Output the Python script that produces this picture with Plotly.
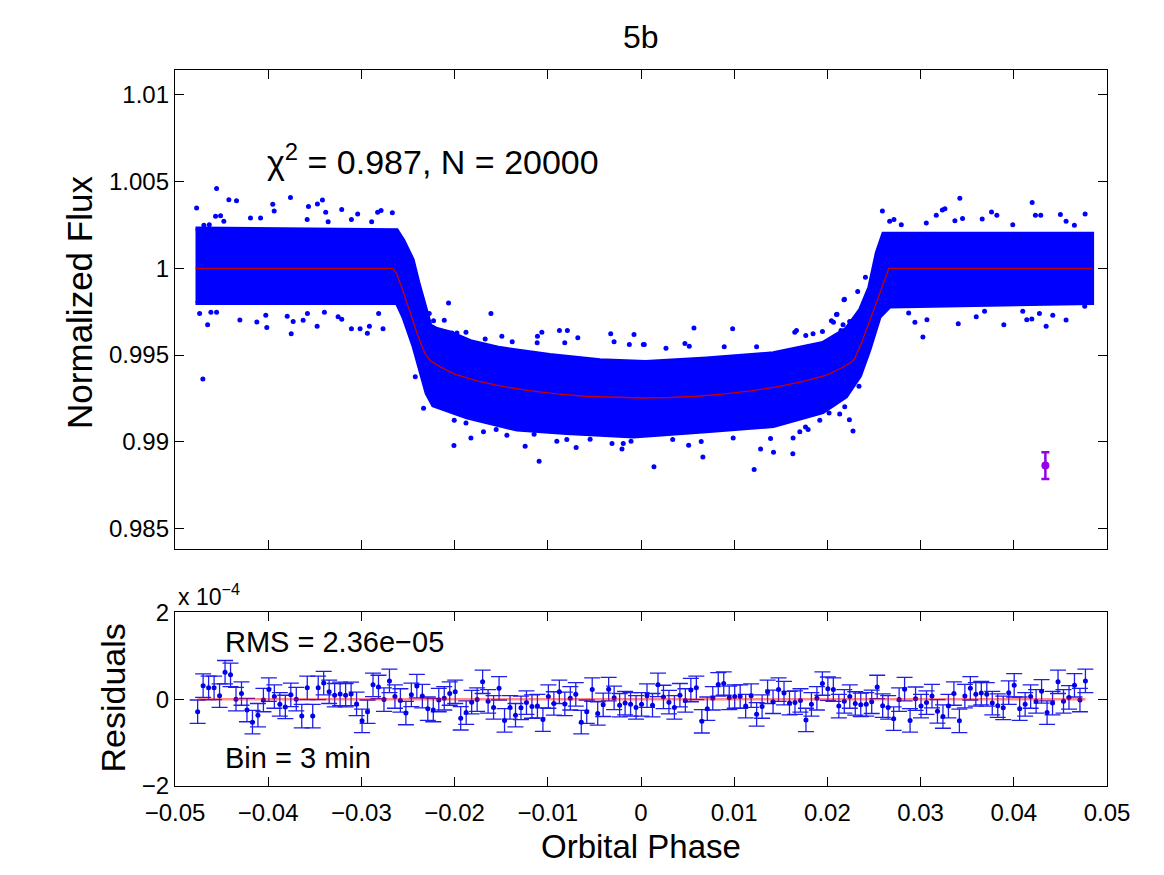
import plotly.graph_objects as go

# ------------------------------------------------------------
# Data
# ------------------------------------------------------------

# dense cloud of the 20000 unbinned points, as upper / lower envelope
band_upper_x = [-0.0478, -0.0262, -0.0255, -0.0245, -0.0239, -0.0230, -0.0226,
                -0.0219, -0.0205, -0.0183, -0.0151, -0.0098, -0.0044, 0.0005,
                0.0070, 0.0142, 0.0195, 0.0220, 0.0235, 0.0245, 0.0253, 0.0260,
                0.0484]
band_upper_y = [1.0023, 1.0022, 1.0016, 1.0005, 0.9992, 0.9976, 0.9967,
                0.9965, 0.9963, 0.9958, 0.9954, 0.9950, 0.9947, 0.9946,
                0.9948, 0.9951, 0.9957, 0.9965, 0.9976, 0.9989, 1.0009, 1.0020,
                1.0020]
band_lower_x = [-0.0478, -0.0262, -0.0255, -0.0244, -0.0237, -0.0230, -0.0223,
                -0.0187, -0.0133, -0.0080, -0.0008, 0.0070, 0.0142, 0.0195,
                0.0220, 0.0235, 0.0245, 0.0249, 0.0256, 0.0267, 0.0484]
band_lower_y = [0.9980, 0.9980, 0.9972, 0.9955, 0.9942, 0.9928, 0.9921,
                0.9914, 0.9907, 0.9905, 0.9903, 0.9906, 0.9909, 0.9917,
                0.9926, 0.9938, 0.9953, 0.9959, 0.9972, 0.9978, 0.9980]

# scattered points outside the dense cloud
outlier_x = [
    -0.04768, -0.04554, -0.04422, -0.04340, -0.04565, -0.04511, -0.04476,
    -0.03951, -0.03936, -0.03761, -0.03568, -0.03472, -0.03418, -0.03383,
    -0.03211, -0.03107, -0.03040, -0.02826, -0.02789, -0.02668, -0.04190,
    -0.04082, -0.03582, -0.03357, -0.02890, -0.04690, -0.04632,
    -0.04701, -0.04650, -0.04304, -0.04122, -0.04015, -0.03753, -0.03732,
    -0.03625, -0.03475, -0.03250, -0.03211, -0.03107, -0.03014, -0.02936,
    -0.02914, -0.02768, -0.04736, -0.04615, -0.04554, -0.04026, -0.03796,
    -0.03579, -0.03397, -0.02815,
    -0.02422, -0.02333, -0.02065, -0.02111, -0.02226, -0.02004, -0.02007,
    -0.01878, -0.02028, -0.01975, -0.01610, -0.02272, -0.01111, -0.01064,
    -0.00875, -0.00790, -0.00678, -0.00325, -0.00075, -0.00818, -0.01114,
    -0.00289, -0.00125, 0.00025, -0.01382, -0.01493, -0.01672, -0.01878,
    -0.01825, -0.01690, -0.01554, -0.01243, -0.01093, -0.00696, -0.00903,
    -0.00311, -0.00204, -0.00190, -0.00107, -0.01439, -0.01147, -0.00546,
    -0.00796,
    0.00568, 0.00983, 0.00035, 0.00268, 0.00471, 0.00518, 0.00893, 0.01240,
    0.01650, 0.01668, 0.01768, 0.01846, 0.01947, 0.02043, 0.02065, 0.02097,
    0.02178, 0.02325, 0.02146, 0.02239,
    0.00139, 0.00664, 0.01214, 0.01283, 0.01422, 0.01629, 0.00511, 0.00646,
    0.00340, 0.00989, 0.01390, 0.01632, 0.01704, 0.01793, 0.01918, 0.02018,
    0.02132, 0.02236, 0.02275, 0.02339, 0.02186,
    0.02590, 0.02668, 0.02714, 0.03168, 0.03233, 0.03261, 0.03421, 0.03368,
    0.03450, 0.03661, 0.03761, 0.03818, 0.04197, 0.04232, 0.04289, 0.04500,
    0.04561, 0.04765, 0.03061, 0.02793, 0.03989, 0.04650,
    0.02183, 0.02103, 0.02408, 0.02168, 0.01765,
    0.03025, 0.02939, 0.03068, 0.03404, 0.03893, 0.04347, 0.04561, 0.04139,
    0.04193, 0.04275, 0.03597, 0.03686, 0.02872, 0.04761, 0.04418, 0.04096,
]
outlier_y = [
    1.00348, 1.00460, 1.00396, 1.00390, 1.00300, 1.00304, 1.00271,
    1.00369, 1.00331, 1.00408, 1.00356, 1.00371, 1.00394, 1.00323,
    1.00339, 1.00281, 1.00314, 1.00323, 1.00333, 1.00321, 1.00291,
    1.00291, 1.00281, 1.00268, 1.00268, 1.00248, 1.00252,
    0.99362, 0.99674, 0.99702, 0.99691, 0.99658, 0.99622, 0.99693,
    0.99700, 0.99666, 0.99721, 0.99706, 0.99652, 0.99652, 0.99625,
    0.99666, 0.99652, 0.99739, 0.99746, 0.99746, 0.99729, 0.99723,
    0.99739, 0.99746, 0.99739,
    0.99374, 0.99193, 0.99800, 0.99700, 0.99698, 0.99123, 0.98978,
    0.99108, 0.99627, 0.99627, 0.99739, 0.99739, 0.99608, 0.99631,
    0.99642, 0.99642, 0.99600, 0.99622, 0.99619, 0.99570, 0.99570,
    0.99576, 0.99560, 0.99560, 0.99576, 0.99608, 0.99593, 0.99631,
    0.99022, 0.99057, 0.99070, 0.98973, 0.98887, 0.98966, 0.99002,
    0.98989, 0.98958, 0.98989, 0.99002, 0.99037, 0.99043, 0.99014,
    0.99012,
    0.99656, 0.99651, 0.99560, 0.99539, 0.99566, 0.99550, 0.99547, 0.99547,
    0.99631, 0.99641, 0.99612, 0.99622, 0.99635, 0.99698, 0.99689, 0.99733,
    0.99819, 0.99866, 0.99642, 0.99694,
    0.98855, 0.98912, 0.98839, 0.98958, 0.98939, 0.98931, 0.98979, 0.99001,
    0.99012, 0.99022, 0.99018, 0.99022, 0.99057, 0.99070, 0.99123, 0.99166,
    0.99160, 0.99127, 0.99062, 0.99320, 0.99201,
    1.00331, 1.00271, 1.00281, 1.00306, 1.00337, 1.00344, 1.00404, 1.00275,
    1.00288, 1.00285, 1.00325, 1.00306, 1.00379, 1.00306, 1.00306, 1.00310,
    1.00271, 1.00314, 1.00262, 1.00252, 1.00252, 1.00248,
    0.99821, 0.99735, 0.99948, 0.99675, 0.99085,
    0.99604, 0.99689, 0.99704, 0.99681, 0.99675, 0.99666, 0.99702, 0.99704,
    0.99708, 0.99739, 0.99720, 0.99752, 0.99743, 0.99781, 0.99729, 0.99752,
]

# transit model (red line)
model_x = [-0.0478, -0.0266, -0.0262, -0.0256, -0.0248, -0.0240, -0.0232,
           -0.0228, -0.0226, -0.0215, -0.0200, -0.0175, -0.0150, -0.0120,
           -0.0090, -0.0060, -0.0030, 0.0000, 0.0030, 0.0060, 0.0090, 0.0120,
           0.0150, 0.0175, 0.0200, 0.0215, 0.0227, 0.0229, 0.0236, 0.0244,
           0.0252, 0.0260, 0.0263, 0.0266, 0.0484]
model_y = [1.0000, 1.0000, 0.99965, 0.99880, 0.99750, 0.99620, 0.99510,
           0.99478, 0.99466, 0.99430, 0.99390, 0.99350, 0.99320, 0.99295,
           0.99276, 0.99262, 0.99255, 0.99252, 0.99255, 0.99262, 0.99276,
           0.99295, 0.99320, 0.99350, 0.99385, 0.99425, 0.99464, 0.99478,
           0.99560, 0.99680, 0.99800, 0.99920, 0.99965, 1.0000, 1.0000]

# typical single-point error (purple marker)
err_pt_x = [0.04339]
err_pt_y = [0.98862]
err_pt_e = [0.00077]

# binned residuals (3 min bins), in units of 1e-4
resid_x0 = -0.04757
resid_dx = 0.000588
resid_y = [
    -0.29, 0.31, 0.26, 0.26, 0.08, 0.62, 0.56, 0.00, 0.13, -0.25,
    -0.53, -0.37, -0.02, 0.22, 0.06, -0.12, -0.18, 0.10, 0.00, -0.39,
    0.26, -0.39, 0.26, 0.37, 0.17, 0.09, 0.12, 0.09, 0.12, -0.11,
    -0.50, -0.29, 0.33, 0.28, -0.01, 0.42, 0.06, -0.03, -0.32, 0.10,
    0.30, 0.07,
    -0.22, -0.25, -0.02, 0.02, 0.13, 0.17, -0.44, -0.31, -0.07, -0.01,
    0.40, -0.05, -0.19, 0.25, -0.49, -0.19, -0.37, -0.20, -0.08, -0.17,
    -0.16, -0.47, 0.06, -0.10, 0.17, -0.11, 0.02, 0.11, -0.53, -0.29,
    0.22, -0.33, -0.13, 0.23, 0.03, -0.14, -0.09, -0.12, -0.19, -0.12,
    0.08, -0.14, 0.33,
    0.05, -0.07, -0.19, 0.09, -0.03, 0.21, 0.26, -0.51, -0.22, 0.02,
    0.34, 0.36, 0.03, 0.06, 0.06, -0.16, 0.08, -0.35, -0.17, 0.17,
    -0.06, 0.22, 0.14, -0.09, -0.08, -0.03, -0.48, -0.12, 0.02, 0.36,
    0.24, 0.22, -0.16, -0.05, 0.06, -0.10, -0.13, -0.12, -0.06, 0.28,
    -0.15, -0.19, -0.45,
    -0.01, 0.23, -0.49, 0.01, -0.16, -0.08, 0.07, -0.28, -0.40, -0.16,
    0.13, -0.50, 0.07, 0.25, 0.11, 0.14, 0.11, -0.09, -0.15, -0.20,
    0.15, 0.32, -0.22, -0.12, 0.06, -0.05, 0.18, -0.31, -0.09, 0.40,
    -0.05, 0.04, 0.32, -0.02, 0.42,
]
resid_err = 0.27
resid_model_x = [-0.0476, 0.0477]
resid_model_y = [0.0, 0.0]

flux_ticks = [0.985, 0.99, 0.995, 1.0, 1.005, 1.01]
flux_ticktext = ["0.985", "0.99", "0.995", "1", "1.005", "1.01"]
resid_ticks = [-2, 0, 2]
resid_ticktext = ["\u22122", "0", "2"]

FONT = "Liberation Sans, Arial, Helvetica, sans-serif"
BLUE = "rgb(0,0,255)"

# ------------------------------------------------------------
# Figure
# ------------------------------------------------------------

fig = go.Figure()

# dense cloud
fig.add_trace(
    go.Scatter(
        x=band_upper_x + band_lower_x[::-1],
        y=band_upper_y + band_lower_y[::-1],
        fill="toself",
        fillcolor=BLUE,
        mode="lines",
        line=dict(color=BLUE, width=4),
        hoverinfo="skip",
        xaxis="x",
        yaxis="y",
    )
)

fig.add_trace(
    go.Scatter(
        x=outlier_x,
        y=outlier_y,
        mode="markers",
        marker=dict(color=BLUE, size=5),
        xaxis="x",
        yaxis="y",
    )
)

fig.add_trace(
    go.Scatter(
        x=model_x,
        y=model_y,
        mode="lines",
        line=dict(color="rgb(200,0,0)", width=1.3),
        xaxis="x",
        yaxis="y",
    )
)

fig.add_trace(
    go.Scatter(
        x=err_pt_x,
        y=err_pt_y,
        mode="markers",
        marker=dict(color="rgb(150,0,235)", size=8),
        error_y=dict(
            type="data",
            array=err_pt_e,
            color="rgb(150,0,235)",
            thickness=2.5,
            width=4,
        ),
        xaxis="x",
        yaxis="y",
    )
)

# residuals
fig.add_trace(
    go.Scatter(
        x0=resid_x0,
        dx=resid_dx,
        y=resid_y,
        mode="markers",
        marker=dict(color="rgb(0,0,235)", size=5),
        error_y=dict(
            type="constant",
            value=resid_err,
            color="rgb(30,30,235)",
            thickness=1.3,
            width=8,
        ),
        xaxis="x2",
        yaxis="y2",
    )
)

fig.add_trace(
    go.Scatter(
        x=resid_model_x,
        y=resid_model_y,
        mode="lines",
        line=dict(color="rgba(255,0,0,0.45)", width=2.5),
        xaxis="x2",
        yaxis="y2",
    )
)

axis_common = dict(
    showline=True,
    linecolor="black",
    linewidth=1.3,
    mirror="ticks",
    ticks="inside",
    ticklen=9,
    tickcolor="black",
    showgrid=False,
    zeroline=False,
    tickfont=dict(family=FONT, size=24, color="black"),
)

# page body has an 8px margin, so the figure is a bit smaller than the window
fig.update_layout(
    width=1156,
    height=867,
    margin=dict(l=167, r=57, t=62, b=89),
    paper_bgcolor="white",
    plot_bgcolor="white",
    showlegend=False,
    font=dict(family=FONT, color="black"),
    xaxis=dict(
        domain=[0, 1],
        anchor="y",
        range=[-0.05, 0.05],
        dtick=0.01,
        showticklabels=False,
        **axis_common,
    ),
    yaxis=dict(
        domain=[0.331, 1],
        anchor="x",
        range=[0.98381, 1.01144],
        tickvals=flux_ticks,
        ticktext=flux_ticktext,
        **axis_common,
    ),
    xaxis2=dict(
        domain=[0, 1],
        anchor="y2",
        range=[-0.05, 0.05],
        dtick=0.01,
        ticklabelstandoff=5,
        **axis_common,
    ),
    yaxis2=dict(
        domain=[0, 0.2426],
        anchor="x2",
        range=[-2, 2],
        tickvals=resid_ticks,
        ticktext=resid_ticktext,
        **axis_common,
    ),
)

fig.add_annotation(
    text="5b", xref="paper", yref="paper", x=0.5, y=1.046,
    xanchor="center", yanchor="middle", showarrow=False, font=dict(size=32),
)
fig.add_annotation(
    text="Normalized Flux", xref="paper", yref="paper", x=-0.102, y=0.676,
    xanchor="center", yanchor="middle", textangle=-90, showarrow=False,
    font=dict(size=35),
)
fig.add_annotation(
    text="Residuals", xref="paper", yref="paper", x=-0.067, y=0.123,
    xanchor="center", yanchor="middle", textangle=-90, showarrow=False,
    font=dict(size=34),
)
fig.add_annotation(
    text="Orbital Phase", xref="paper", yref="paper", x=0.5, y=-0.085,
    xanchor="center", yanchor="middle", showarrow=False, font=dict(size=33),
)
fig.add_annotation(
    text="x 10<sup>\u22124</sup>", xref="paper", yref="paper", x=0.001,
    y=0.267, xanchor="left", yanchor="middle", showarrow=False,
    font=dict(size=23),
)
fig.add_annotation(
    text="\u03c7<sup>2</sup> = 0.987, N = 20000", xref="x", yref="y",
    x=-0.0403, y=1.00625, xanchor="left", yanchor="middle", showarrow=False,
    font=dict(size=34),
)
fig.add_annotation(
    text="RMS = 2.36e\u221205", xref="x2", yref="y2", x=-0.0449, y=1.31,
    xanchor="left", yanchor="middle", showarrow=False, font=dict(size=29),
)
fig.add_annotation(
    text="Bin = 3 min", xref="x2", yref="y2", x=-0.0449, y=-1.35,
    xanchor="left", yanchor="middle", showarrow=False, font=dict(size=29),
)

fig.write_html("out.html")
